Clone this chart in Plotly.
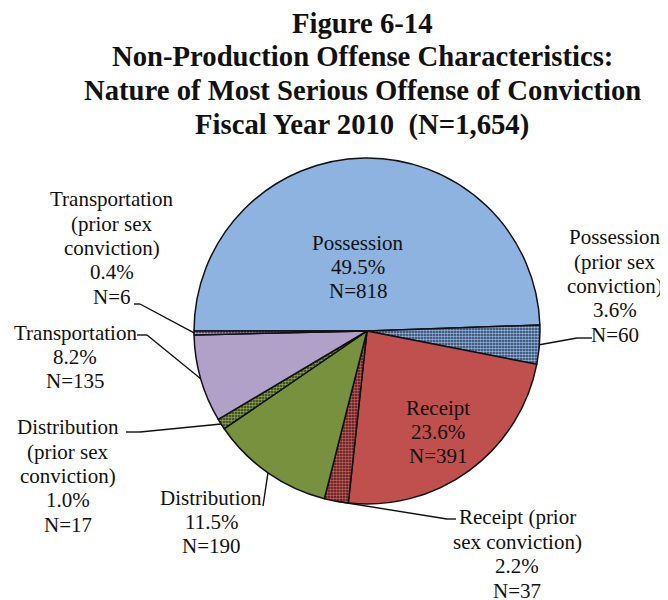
import math
import plotly.graph_objects as go

# ---------------- data ----------------
categories = [
    "Possession",
    "Possession (prior sex conviction)",
    "Receipt",
    "Receipt (prior sex conviction)",
    "Distribution",
    "Distribution (prior sex conviction)",
    "Transportation",
    "Transportation (prior sex conviction)",
]
label_names = [
    ["Possession"],
    ["Possession", "(prior sex", "conviction)"],
    ["Receipt"],
    ["Receipt (prior", "sex conviction)"],
    ["Distribution"],
    ["Distribution", "(prior sex", "conviction)"],
    ["Transportation"],
    ["Transportation", "(prior sex", "conviction)"],
]
counts = [818, 60, 391, 37, 190, 17, 135, 6]
percents = [49.5, 3.6, 23.6, 2.2, 11.5, 1.0, 8.2, 0.4]
title_lines = [
    "Figure 6-14",
    "Non-Production Offense Characteristics:",
    "Nature of Most Serious Offense of Conviction",
    "Fiscal Year 2010  (N=1,654)",
]

# ---------------- styles / layout ----------------
OFF = 8                      # page body margin of the browser
W, H = 668 - OFF, 600 - OFF  # figure size so it fills the window
colors = ["#8EB3E0", "#26364F", "#C0504D", "#3A1616", "#77913E", "#2A3416", "#B1A1C8", "#2E2640"]
pattern_shapes = ["", ".", "", ".", "", ".", "", "."]
pattern_fg = ["#8EB3E0", "#8EB3E0", "#C0504D", "#C85A57", "#77913E", "#8AA44C", "#B1A1C8", "#B1A1C8"]
pattern_bg = colors
ROTATION = 270
CX, CY, R = 367.0, 331.0, 173.0  # pie centre / radius in window px

# label block centres in window px and leader elbow points (window px)
label_pos = [(358, 267), (615, 286), (438, 432), (517, 554), (211, 522), (68, 476), (75, 357), (112, 248)]
LINE_STEP = 24.4
leader_elbows = [
    None,
    [(592, 338), (577, 338)],
    None,
    [(456, 519), (447, 519)],
    [(263, 506)],
    [(126, 432), (140, 432)],
    [(137, 335), (147, 335)],
    [(134, 304), (140, 304)],
]
title_y = [23, 56, 90, 125]
TITLE_X = 362

FONT = "Liberation Serif, Times New Roman, serif"


def px2paper(x, y):
    return (x - OFF) / W, 1 - (y - OFF) / H


dx0, dy0 = px2paper(CX - R, CY + R)
dx1, dy1 = px2paper(CX + R, CY - R)

fig = go.Figure(
    go.Pie(
        labels=categories,
        values=counts,
        sort=False,
        direction="clockwise",
        rotation=ROTATION,
        textinfo="none",
        hoverinfo="label+value+percent",
        marker=dict(
            colors=colors,
            line=dict(color="#111111", width=1.5),
            pattern=dict(shape=pattern_shapes, fgcolor=pattern_fg, bgcolor=pattern_bg,
                         size=3, solidity=0.6),
        ),
        domain=dict(x=[dx0, dx1], y=[dy0, dy1]),
        showlegend=False,
    )
)

annotations = []
shapes = []

total = sum(counts)
angle = ROTATION
for i, (name, c, p) in enumerate(zip(label_names, counts, percents)):
    span = 360.0 * c / total
    mid = math.radians(angle + span / 2)
    angle += span
    ex = CX + R * math.sin(mid)
    ey = CY - R * math.cos(mid)
    lines = name + [f"{p:.1f}%", f"N={c}"]
    cxp, cyp = label_pos[i]
    n = len(lines)
    for k, line in enumerate(lines):
        lx, ly = px2paper(cxp, cyp + (k - (n - 1) / 2) * LINE_STEP)
        annotations.append(
            dict(
                x=lx, y=ly, xref="paper", yref="paper", xanchor="center", yanchor="middle",
                text=line, showarrow=False, borderpad=0,
                font=dict(family=FONT, size=21, color="#111111"),
            )
        )
    if leader_elbows[i]:
        pts = leader_elbows[i] + [(ex, ey)]
        for (x0, y0), (x1, y1) in zip(pts[:-1], pts[1:]):
            a0, b0 = px2paper(x0, y0)
            a1, b1 = px2paper(x1, y1)
            shapes.append(
                dict(type="line", xref="paper", yref="paper", x0=a0, y0=b0, x1=a1, y1=b1,
                     line=dict(color="#111111", width=1.4))
            )

for t, yy in zip(title_lines, title_y):
    tx, ty = px2paper(TITLE_X, yy)
    annotations.append(
        dict(
            x=tx, y=ty, xref="paper", yref="paper", xanchor="center", yanchor="middle",
            text=f"<b>{t}</b>", showarrow=False, borderpad=0,
            font=dict(family=FONT, size=28.7, color="#111111"),
        )
    )

fig.update_layout(
    width=W, height=H, autosize=False,
    margin=dict(l=0, r=0, t=0, b=0),
    paper_bgcolor="white", plot_bgcolor="white",
    annotations=annotations, shapes=shapes,
)

fig.write_html("out.html")
